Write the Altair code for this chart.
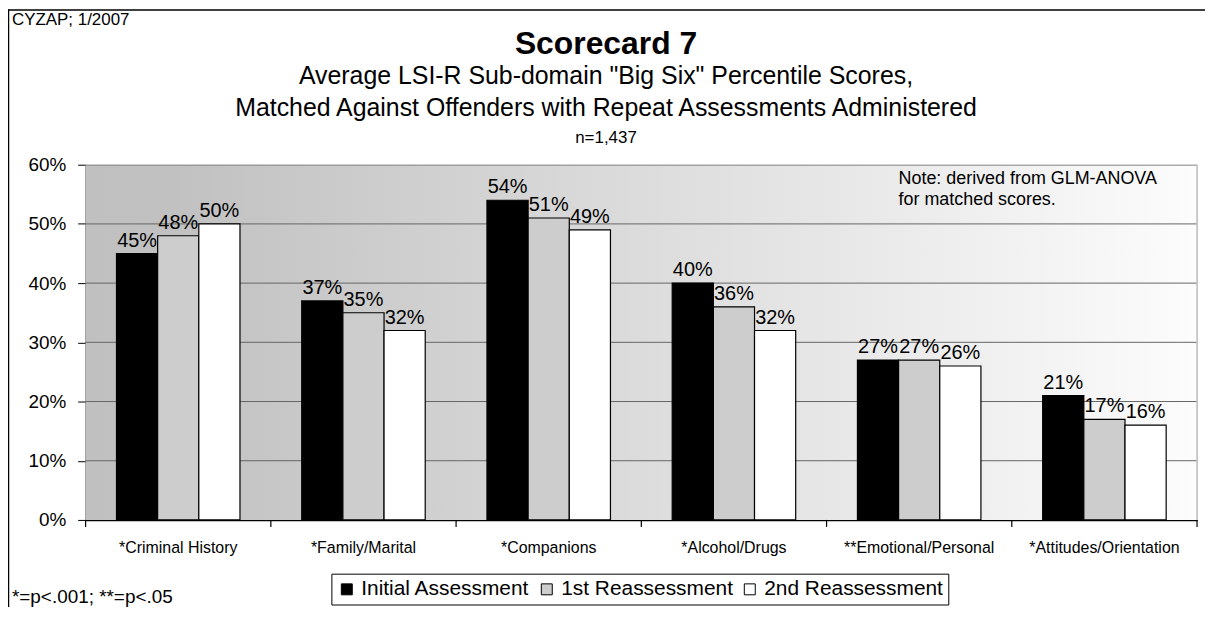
import altair as alt
import pandas as pd

categories = ["*Criminal History", "*Family/Marital", "*Companions",
              "*Alcohol/Drugs", "**Emotional/Personal", "*Attitudes/Orientation"]
series = ["Initial Assessment", "1st Reassessment", "2nd Reassessment"]
initial = [0.45, 0.37, 0.54, 0.40, 0.27, 0.21]
first_re = [0.48, 0.35, 0.51, 0.36, 0.27, 0.17]
second_re = [0.50, 0.32, 0.49, 0.32, 0.26, 0.16]
y_ticks = [0, 0.1, 0.2, 0.3, 0.4, 0.5, 0.6]
grid_values = [0.1, 0.2, 0.3, 0.4, 0.5]

FONT = "Liberation Sans"
W, H = 1117, 357

rows = []
for s, vals in zip(series, [initial, first_re, second_re]):
    for c, v in zip(categories, vals):
        rows.append({"cat": c, "series": s, "value": v})
df = pd.DataFrame(rows)
dummy = pd.DataFrame({"d": [0]})

yscale = alt.Scale(domain=[0, 0.6], nice=False, zero=True)
xscale = alt.Scale(domain=categories, paddingInner=0, paddingOuter=0)
xoscale = alt.Scale(domain=series, paddingInner=0, paddingOuter=0.75)

xaxis = alt.Axis(title=None, labelAngle=0, ticks=False, domain=True,
                 domainColor="black", domainWidth=1.5,
                 labelFontSize=16, labelPadding=20, labelColor="black",
                 labelFont=FONT, labelLimit=0)
yaxis = alt.Axis(title=None, values=y_ticks, format=".0%", grid=False,
                 domainColor="black", tickColor="black", tickSize=8,
                 labelPadding=12, labelFontSize=19, labelColor="black",
                 labelFont=FONT)

bg = alt.Chart(dummy).mark_rect(
    color=alt.LinearGradient(
        gradient="linear",
        stops=[alt.GradientStop(offset=0, color="#c0c0c0"),
               alt.GradientStop(offset=0.08, color="#c1c1c1"),
               alt.GradientStop(offset=1, color="#fcfcfc")],
        x1=0, x2=1, y1=0, y2=0)
).encode(x=alt.value(0), x2=alt.value(W), y=alt.value(0), y2=alt.value(H))

grid = alt.Chart(pd.DataFrame({"value": grid_values})).mark_rule(
    color="#666666", strokeWidth=1
).encode(y=alt.Y("value:Q", scale=yscale, axis=yaxis))

top_border = alt.Chart(dummy).mark_rule(color="#888888", strokeWidth=1).encode(
    x=alt.value(0), x2=alt.value(W), y=alt.value(0.5))
right_border = alt.Chart(dummy).mark_rule(color="#c0c0c0", strokeWidth=1.5).encode(
    x=alt.value(W), y=alt.value(0), y2=alt.value(H))

bars = alt.Chart(df).mark_bar(stroke="black", strokeWidth=1.2).encode(
    x=alt.X("cat:N", sort=categories, scale=xscale, axis=xaxis),
    xOffset=alt.XOffset("series:N", sort=series, scale=xoscale),
    y=alt.Y("value:Q", scale=yscale, axis=yaxis),
    color=alt.Color("series:N", sort=series,
                    scale=alt.Scale(domain=series, range=["#000000", "#cdcdcd", "#ffffff"]),
                    legend=alt.Legend(orient="none", legendX=247, legendY=411,
                                      direction="horizontal", title=None,
                                      strokeColor="black", fillColor="white",
                                      padding=5, symbolType="square", symbolSize=121,
                                      symbolStrokeColor="black", symbolStrokeWidth=1,
                                      labelFontSize=21, labelFont=FONT, labelLimit=0,
                                      labelColor="black", columnPadding=6,
                                      symbolOpacity=1))
)

labels = alt.Chart(df).mark_text(
    baseline="bottom", dy=-3, fontSize=20, font=FONT, color="black"
).encode(
    x=alt.X("cat:N", sort=categories, scale=xscale, axis=xaxis),
    xOffset=alt.XOffset("series:N", sort=series, scale=xoscale),
    y=alt.Y("value:Q", scale=yscale, axis=yaxis),
    text=alt.Text("value:Q", format=".0%")
)

ticks = alt.Chart(pd.DataFrame({"cat": categories})).mark_rule(
    color="black", strokeWidth=1.2
).encode(
    x=alt.X("cat:N", sort=categories, scale=xscale, bandPosition=0, axis=xaxis),
    y=alt.value(H), y2=alt.value(H + 7))
end_tick = alt.Chart(dummy).mark_rule(color="black", strokeWidth=1.2).encode(
    x=alt.value(W), y=alt.value(H), y2=alt.value(H + 7))

def txt(s, x, y, size, align="left", weight="normal"):
    return alt.Chart(dummy).mark_text(
        text=s, align=align, baseline="alphabetic", fontSize=size,
        fontWeight=weight, font=FONT, color="black"
    ).encode(x=alt.value(x), y=alt.value(y))

texts = [
    txt("CYZAP; 1/2007", -74, -140, 17),
    txt("Scorecard 7", 523, -111, 32, align="center", weight="bold"),
    txt('Average LSI-R Sub-domain "Big Six" Percentile Scores,', 523, -81, 25, align="center"),
    txt("Matched Against Offenders with Repeat Assessments Administered", 523, -49, 25, align="center"),
    txt("n=1,437", 523, -22, 17, align="center"),
    txt("Note: derived from GLM-ANOVA", 817, 19, 18),
    txt("for matched scores.", 817, 40, 18),
    txt("*=p<.001; **=p<.05", -74, 440, 19),
]

frame_top = alt.Chart(dummy).mark_rule(color="black", strokeWidth=1.5).encode(
    x=alt.value(-78), x2=alt.value(W + 8), y=alt.value(-155.5))
frame_left = alt.Chart(dummy).mark_rule(color="black", strokeWidth=1.5).encode(
    x=alt.value(-77.5), y=alt.value(-156), y2=alt.value(H + 90))

chart = alt.layer(
    bg, grid, top_border, right_border, bars, labels, ticks, end_tick,
    frame_top, frame_left, *texts
).properties(
    width=W, height=H,
    padding={"left": 78, "top": 156, "right": 8, "bottom": 86},
    autosize=alt.AutoSizeParams(type="none"),
).configure_view(stroke=None).configure(font=FONT)

chart.save("out.html", embed_options={"renderer": "svg", "actions": False})
